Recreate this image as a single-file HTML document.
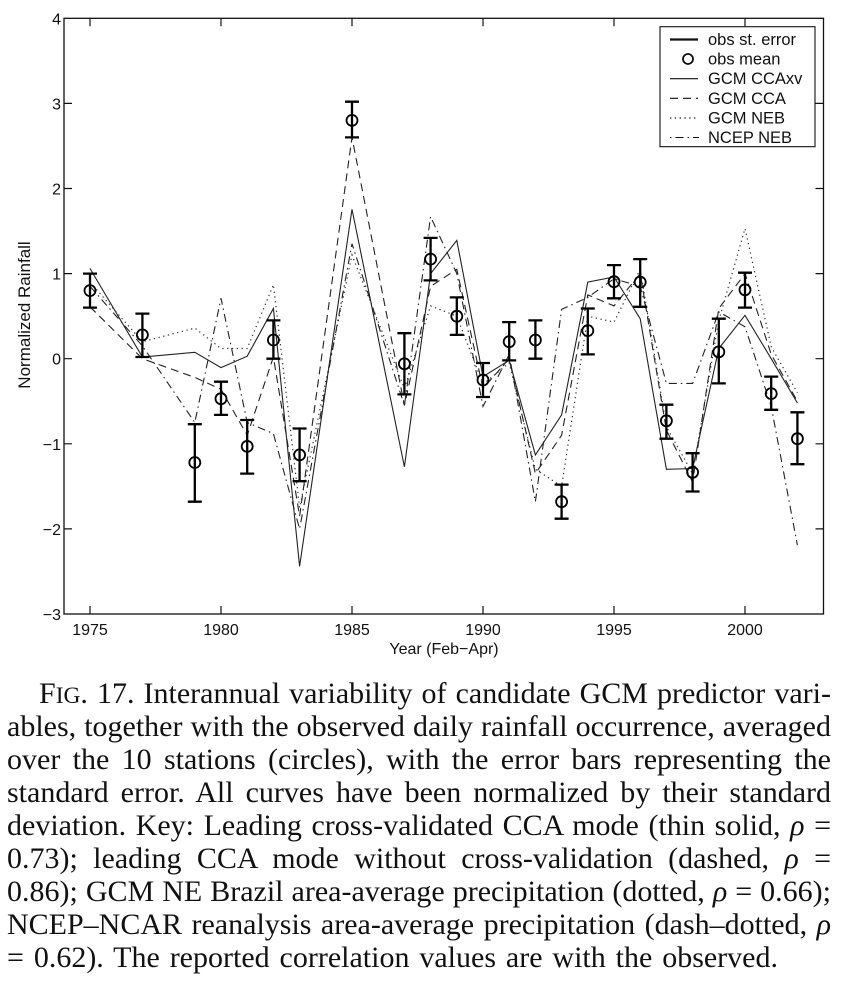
<!DOCTYPE html>
<html>
<head>
<meta charset="utf-8">
<style>
  html, body { margin:0; padding:0; background:#fff; }
  body { width:842px; height:984px; position:relative; overflow:hidden; }
  svg { position:absolute; left:0; top:0; }
  .cap { position:absolute; font-family:"Liberation Serif", serif; font-size:30px; line-height:33px; color:#111;
         white-space:nowrap; text-align:justify; text-align-last:justify; }
  .sc { font-size:0.78em; }
</style>
</head>
<body>
<svg width="842" height="670" viewBox="0 0 842 670" xmlns="http://www.w3.org/2000/svg">
  <g font-family="Liberation Sans, Arial, sans-serif" fill="#111">
    <!-- y tick labels -->
    <text x="61" y="24.3" font-size="16" text-anchor="end">4</text>
    <text x="61" y="109.4" font-size="16" text-anchor="end">3</text>
    <text x="61" y="194.5" font-size="16" text-anchor="end">2</text>
    <text x="61" y="279.6" font-size="16" text-anchor="end">1</text>
    <text x="61" y="364.7" font-size="16" text-anchor="end">0</text>
    <text x="61" y="449.8" font-size="16" text-anchor="end">−1</text>
    <text x="61" y="534.9" font-size="16" text-anchor="end">−2</text>
    <text x="61" y="620" font-size="16" text-anchor="end">−3</text>
    <!-- x tick labels -->
    <text x="90" y="635" font-size="16" text-anchor="middle">1975</text>
    <text x="221" y="635" font-size="16" text-anchor="middle">1980</text>
    <text x="352" y="635" font-size="16" text-anchor="middle">1985</text>
    <text x="483" y="635" font-size="16" text-anchor="middle">1990</text>
    <text x="614" y="635" font-size="16" text-anchor="middle">1995</text>
    <text x="745" y="635" font-size="16" text-anchor="middle">2000</text>
    <!-- axis labels -->
    <text x="444" y="654" font-size="16" text-anchor="middle">Year (Feb−Apr)</text>
    <text transform="translate(30,315) rotate(-90)" font-size="17" text-anchor="middle">Normalized Rainfall</text>
  </g>

  <!-- axes box -->
  <rect x="64" y="18.3" width="759.5" height="595.7" fill="none" stroke="#111" stroke-width="1.3"/>
  <!-- ticks -->
  <g stroke="#111" stroke-width="1.2">
    <path d="M90 614v-8M221 614v-8M352 614v-8M483 614v-8M614 614v-8M745 614v-8"/>
    <path d="M90 18.3v8M221 18.3v8M352 18.3v8M483 18.3v8M614 18.3v8M745 18.3v8"/>
    <path d="M64 103.4h8M64 188.5h8M64 273.6h8M64 358.7h8M64 443.8h8M64 528.9h8"/>
    <path d="M823.5 103.4h-8M823.5 188.5h-8M823.5 273.6h-8M823.5 358.7h-8M823.5 443.8h-8M823.5 528.9h-8"/>
  </g>

  <!-- GCM CCAxv (solid) -->
  <polyline fill="none" stroke="#222" stroke-width="1.1" stroke-linejoin="miter"
    points="90,268.5 142.4,357.0 194.8,352.3 221.0,367.6 247.2,356.2 273.4,308.5 299.6,566.3 352.0,209.3 404.4,466.8 430.6,273.6 456.8,240.4 483.0,376.6 509.2,360.4 535.4,454.9 561.6,414.9 587.8,282.1 614.0,277.0 640.2,318.7 666.4,469.3 692.6,468.5 718.8,348.5 745.0,315.3 771.2,358.7 797.4,403.0"/>
  <!-- GCM CCA (dashed) -->
  <polyline fill="none" stroke="#222" stroke-width="1.1" stroke-dasharray="8 5"
    points="90,306.8 142.4,358.7 194.8,377.4 221.0,389.3 247.2,435.3 273.4,357.0 299.6,516.1 352.0,137.4 404.4,405.5 430.6,286.4 456.8,269.3 483.0,388.5 509.2,358.7 535.4,473.6 561.6,435.3 587.8,294.9 614.0,305.9 640.2,273.6 666.4,430.2 692.6,482.1 718.8,308.5 745.0,273.6 771.2,354.4 797.4,401.3"/>
  <!-- GCM NEB (dotted) -->
  <polyline fill="none" stroke="#333" stroke-width="1.2" stroke-dasharray="1.3 3.5"
    points="90,282.1 142.4,341.7 194.8,328.1 221.0,348.5 247.2,348.5 273.4,284.7 299.6,507.6 352.0,254.9 404.4,388.5 430.6,305.9 456.8,316.2 483.0,384.2 509.2,363.0 535.4,469.3 561.6,486.4 587.8,316.2 614.0,322.1 640.2,269.3 666.4,426.8 692.6,473.6 718.8,320.4 745.0,228.5 771.2,346.8 797.4,392.7"/>
  <!-- NCEP NEB (dash-dot) -->
  <polyline fill="none" stroke="#222" stroke-width="1.1" stroke-dasharray="8 4 1.5 4"
    points="90,286.4 142.4,345.9 194.8,422.5 221.0,298.3 247.2,422.5 273.4,433.6 299.6,528.9 352.0,243.8 404.4,405.5 430.6,216.6 456.8,273.6 483.0,406.4 509.2,354.4 535.4,501.7 561.6,309.4 587.8,297.4 614.0,278.7 640.2,286.4 666.4,383.4 692.6,383.4 718.8,311.9 745.0,326.8 771.2,406.4 797.4,545.1"/>

  <!-- error bars -->
  <g stroke="#000" stroke-width="2.3" fill="none">
    <path d="M90 273.6V307.6M83 273.6h14M83 307.6h14"/>
    <path d="M142.4 313.6V357.0M135.4 313.6h14M135.4 357.0h14"/>
    <path d="M194.8 424.2V501.7M187.8 424.2h14M187.8 501.7h14"/>
    <path d="M221.0 381.7V414.9M214 381.7h14M214 414.9h14"/>
    <path d="M247.2 420.0V473.6M240.2 420.0h14M240.2 473.6h14"/>
    <path d="M273.4 320.4V358.7M266.4 320.4h14M266.4 358.7h14"/>
    <path d="M299.6 428.5V481.2M292.6 428.5h14M292.6 481.2h14"/>
    <path d="M352.0 101.7V137.4M345 101.7h14M345 137.4h14"/>
    <path d="M404.4 333.2V394.4M397.4 333.2h14M397.4 394.4h14"/>
    <path d="M430.6 237.9V280.4M423.6 237.9h14M423.6 280.4h14"/>
    <path d="M456.8 297.4V334.9M449.8 297.4h14M449.8 334.9h14"/>
    <path d="M483.0 363.0V397.0M476 363.0h14M476 397.0h14"/>
    <path d="M509.2 322.1V360.4M502.2 322.1h14M502.2 360.4h14"/>
    <path d="M535.4 320.4V358.7M528.4 320.4h14M528.4 358.7h14"/>
    <path d="M561.6 484.6V518.7M554.6 484.6h14M554.6 518.7h14"/>
    <path d="M587.8 308.5V354.4M580.8 308.5h14M580.8 354.4h14"/>
    <path d="M614.0 265.1V298.3M607 265.1h14M607 298.3h14"/>
    <path d="M640.2 259.1V306.8M633.2 259.1h14M633.2 306.8h14"/>
    <path d="M666.4 404.7V438.7M659.4 404.7h14M659.4 438.7h14"/>
    <path d="M692.6 453.2V491.5M685.6 453.2h14M685.6 491.5h14"/>
    <path d="M718.8 318.7V383.4M711.8 318.7h14M711.8 383.4h14"/>
    <path d="M745.0 272.7V307.6M738 272.7h14M738 307.6h14"/>
    <path d="M771.2 376.6V409.8M764.2 376.6h14M764.2 409.8h14"/>
    <path d="M797.4 412.3V464.2M790.4 412.3h14M790.4 464.2h14"/>
  </g>
  <!-- obs mean circles -->
  <g stroke="#000" stroke-width="1.8" fill="none">
    <circle cx="90" cy="290.6" r="5.5"/>
    <circle cx="142.4" cy="334.9" r="5.5"/>
    <circle cx="194.8" cy="462.5" r="5.5"/>
    <circle cx="221.0" cy="398.7" r="5.5"/>
    <circle cx="247.2" cy="446.4" r="5.5"/>
    <circle cx="273.4" cy="340.0" r="5.5"/>
    <circle cx="299.6" cy="454.9" r="5.5"/>
    <circle cx="352.0" cy="120.4" r="5.5"/>
    <circle cx="404.4" cy="363.8" r="5.5"/>
    <circle cx="430.6" cy="259.1" r="5.5"/>
    <circle cx="456.8" cy="316.2" r="5.5"/>
    <circle cx="483.0" cy="380.0" r="5.5"/>
    <circle cx="509.2" cy="341.7" r="5.5"/>
    <circle cx="535.4" cy="340.0" r="5.5"/>
    <circle cx="561.6" cy="501.7" r="5.5"/>
    <circle cx="587.8" cy="330.6" r="5.5"/>
    <circle cx="614.0" cy="281.7" r="5.5"/>
    <circle cx="640.2" cy="282.1" r="5.5"/>
    <circle cx="666.4" cy="420.8" r="5.5"/>
    <circle cx="692.6" cy="472.3" r="5.5"/>
    <circle cx="718.8" cy="351.9" r="5.5"/>
    <circle cx="745.0" cy="289.8" r="5.5"/>
    <circle cx="771.2" cy="393.6" r="5.5"/>
    <circle cx="797.4" cy="438.7" r="5.5"/>
  </g>

  <!-- legend -->
  <rect x="660" y="26.7" width="155" height="120" fill="#fff" stroke="#111" stroke-width="1.1"/>
  <g stroke="#111" fill="none">
    <path d="M670 39.5H698" stroke-width="2.3"/>
    <circle cx="688" cy="59" r="5" stroke-width="1.8"/>
    <path d="M670 78.7H698" stroke-width="1.1"/>
    <path d="M670 98.3H698" stroke-width="1.1" stroke-dasharray="8 5"/>
    <path d="M670 118H698" stroke-width="1.2" stroke-dasharray="1.3 3.5"/>
    <path d="M670 137.5H699" stroke-width="1.1" stroke-dasharray="1.5 4 8 4"/>
  </g>
  <g font-family="Liberation Sans, Arial, sans-serif" font-size="16.5" fill="#111">
    <text x="708" y="45">obs st. error</text>
    <text x="708" y="64.6">obs mean</text>
    <text x="708" y="84.2">GCM CCAxv</text>
    <text x="708" y="103.8">GCM CCA</text>
    <text x="708" y="123.4">GCM NEB</text>
    <text x="708" y="143">NCEP NEB</text>
  </g>
</svg>

<div class="cap" style="left:39px; width:792px; top:677.4px;">F<span class="sc">IG</span>. 17. Interannual variability of candidate GCM predictor vari-</div>
<div class="cap" style="left:7px; width:824px; top:710.4px;">ables, together with the observed daily rainfall occurrence, averaged</div>
<div class="cap" style="left:7px; width:824px; top:743.4px;">over the 10 stations (circles), with the error bars representing the</div>
<div class="cap" style="left:7px; width:824px; top:776.4px;">standard error. All curves have been normalized by their standard</div>
<div class="cap" style="left:7px; width:824px; top:809.4px;">deviation. Key: Leading cross-validated CCA mode (thin solid, <i>ρ</i> =</div>
<div class="cap" style="left:7px; width:824px; top:842.4px;">0.73); leading CCA mode without cross-validation (dashed, <i>ρ</i> =</div>
<div class="cap" style="left:7px; width:824px; top:875.4px;">0.86); GCM NE Brazil area-average precipitation (dotted, <i>ρ</i> = 0.66);</div>
<div class="cap" style="left:7px; width:824px; top:908.4px;">NCEP–NCAR reanalysis area-average precipitation (dash–dotted, <i>ρ</i></div>
<div class="cap" style="left:7px; width:771px; top:941.4px;">= 0.62). The reported correlation values are with the observed.</div>
</body>
</html>
